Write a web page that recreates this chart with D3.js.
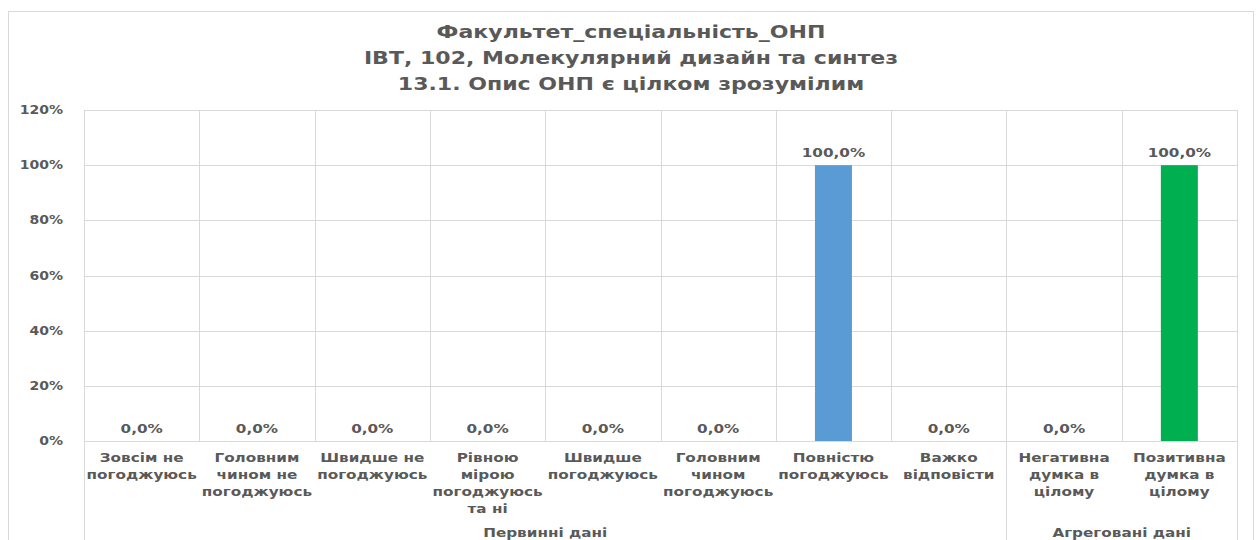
<!DOCTYPE html>
<html>
<head>
<meta charset="utf-8">
<script src="https://cdn.jsdelivr.net/npm/d3@7"></script>
<style>
  body { margin: 0; background: #fff; }
  text { font-family: "DejaVu Sans", sans-serif; font-weight: bold; fill: #595959; }
</style>
</head>
<body>
<div id="chart"><svg></svg></div>
<script>
var width = 1258,
    height = 540;

// chart data
var titleLines = ["Факультет_спеціальність_ОНП",
                  "ІВТ, 102, Молекулярний дизайн та синтез",
                  "13.1. Опис ОНП є цілком зрозумілим"];
var categories = [
  ["Зовсім не", "погоджуюсь"],
  ["Головним", "чином не", "погоджуюсь"],
  ["Швидше не", "погоджуюсь"],
  ["Рівною", "мірою", "погоджуюсь", "та ні"],
  ["Швидше", "погоджуюсь"],
  ["Головним", "чином", "погоджуюсь"],
  ["Повністю", "погоджуюсь"],
  ["Важко", "відповісти"],
  ["Негативна", "думка в", "цілому"],
  ["Позитивна", "думка в", "цілому"]
];
var values = [0, 0, 0, 0, 0, 0, 1, 0, 0, 1];
var barColors = ["#5b9bd5", "#5b9bd5", "#5b9bd5", "#5b9bd5", "#5b9bd5",
                 "#5b9bd5", "#5b9bd5", "#5b9bd5", "#00b050", "#00b050"];
var groups = [
  { name: "Первинні дані", from: 0, to: 7 },
  { name: "Агреговані дані", from: 8, to: 9 }
];
var yTicks = [0, 0.2, 0.4, 0.6, 0.8, 1.0, 1.2];

var margin = { left: 84, right: 1237, top: 110, bottom: 441 };

var svg = d3.select("#chart svg")
  .attr("width", width)
  .attr("height", height);

// outer chart border
svg.append("rect")
  .attr("x", 8.5).attr("y", 11.5)
  .attr("width", 1245).attr("height", 540)
  .attr("fill", "none")
  .attr("stroke", "#d9d9d9");

var x = d3.scaleBand()
  .domain(d3.range(categories.length))
  .range([margin.left, margin.right])
  .paddingInner(0)
  .paddingOuter(0);

var y = d3.scaleLinear()
  .domain([0, 1.2])
  .range([margin.bottom, margin.top]);

var fmtTick = d3.format(".0%");
var fmtLabel = function (v) { return d3.format(".1f")(v * 100).replace(".", ",") + "%"; };

// glyphs in the original are horizontally wide, so stretch the text a bit
function wideText(sel, px, py, fs, anchor, sx) {
  return sel.append("text")
    .attr("transform", "translate(" + px + "," + py + ") scale(" + (sx || 1.27) + ",1)")
    .attr("text-anchor", anchor || "middle")
    .style("font-size", fs + "px");
}

// title
titleLines.forEach(function (t, i) {
  wideText(svg, 631, 38 + i * 26, 17.5, "middle", 1.26).text(t);
});

// horizontal gridlines
svg.append("g")
  .selectAll("line")
  .data(yTicks)
  .enter().append("line")
    .attr("x1", margin.left).attr("x2", margin.right)
    .attr("y1", function (d) { return Math.round(y(d)) + 0.5; })
    .attr("y2", function (d) { return Math.round(y(d)) + 0.5; })
    .attr("stroke", "#d9d9d9");

// vertical gridlines at category borders inside the plot
svg.append("g")
  .selectAll("line")
  .data(d3.range(categories.length + 1))
  .enter().append("line")
    .attr("x1", function (i) { return Math.round(margin.left + i * x.bandwidth()) + 0.5; })
    .attr("x2", function (i) { return Math.round(margin.left + i * x.bandwidth()) + 0.5; })
    .attr("y1", margin.top)
    .attr("y2", margin.bottom)
    .attr("stroke", "#d9d9d9");

// group dividers running to the bottom
var groupEdges = [groups[0].from, groups[1].from, groups[1].to + 1];
svg.append("g")
  .selectAll("line")
  .data(groupEdges)
  .enter().append("line")
    .attr("x1", function (i) { return Math.round(margin.left + i * x.bandwidth()) + 0.5; })
    .attr("x2", function (i) { return Math.round(margin.left + i * x.bandwidth()) + 0.5; })
    .attr("y1", margin.bottom)
    .attr("y2", height)
    .attr("stroke", "#d9d9d9");

// y tick labels
yTicks.forEach(function (t) {
  wideText(svg, 63, y(t) + 4, 12, "end", 1.17).text(fmtTick(t));
});

// bars
var barW = 37;
svg.append("g")
  .selectAll("rect")
  .data(values)
  .enter().append("rect")
    .attr("x", function (d, i) { return x(i) + x.bandwidth() / 2 - barW / 2; })
    .attr("y", function (d) { return y(d); })
    .attr("width", barW)
    .attr("height", function (d) { return y(0) - y(d); })
    .attr("fill", function (d, i) { return barColors[i]; });

// data labels
values.forEach(function (v, i) {
  wideText(svg, x(i) + x.bandwidth() / 2, y(v) - 8, 12).text(fmtLabel(v));
});

// category labels
categories.forEach(function (lines, i) {
  lines.forEach(function (l, j) {
    wideText(svg, x(i) + x.bandwidth() / 2, 462 + j * 17, 12).text(l);
  });
});

// group labels
groups.forEach(function (g) {
  var cx = (x(g.from) + x(g.to) + x.bandwidth()) / 2;
  wideText(svg, cx, 537, 12).text(g.name);
});
</script>
</body>
</html>
